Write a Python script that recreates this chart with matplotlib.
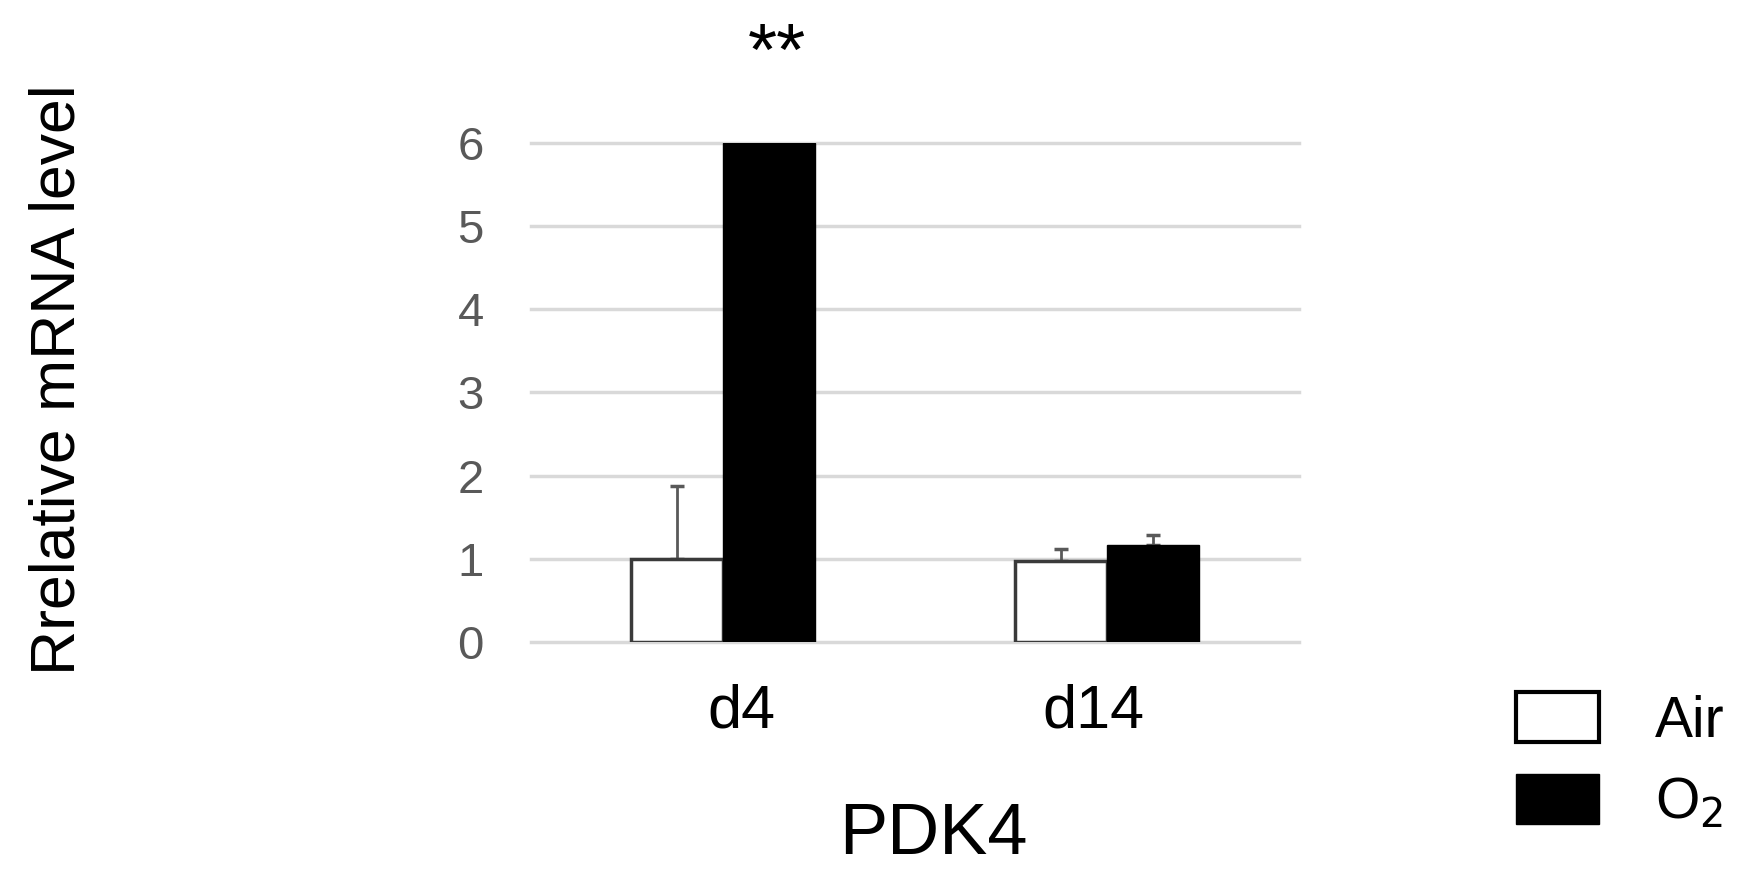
import matplotlib
matplotlib.use("Agg")
import matplotlib.pyplot as plt
import matplotlib.transforms as mtransforms
import numpy as np
from matplotlib.patches import Patch

plt.rcParams['font.family'] = ['Liberation Sans', 'DejaVu Sans']

# Data
categories = ['d4', 'd14']
air_values = [1.0, 0.97]
o2_values = [6.0, 1.16]
air_err = [0.88, 0.15]
o2_err = [np.nan, 0.12]
y_ticks = [0, 1, 2, 3, 4, 5, 6]

fig = plt.figure(figsize=(17.45, 8.83), dpi=100)
ax = fig.add_axes([0.3043, 0.2729, 0.4401, 0.5657])

x = np.arange(len(categories))
w = 0.24

# grid first so bars sit on top
ax.set_axisbelow(True)
ax.yaxis.grid(True, color='#d9d9d9', linewidth=2.5, clip_on=False)

ax.bar(x - w / 2, air_values, width=w, color='white', edgecolor='#3a3a3a', linewidth=2.5,
       label='Air', zorder=3)
ax.bar(x + w / 2, o2_values, width=w, color='black', edgecolor='black', linewidth=1,
       label='O$_2$', zorder=3)

# upper error bars only
ax.errorbar(x - w / 2, air_values, yerr=[np.zeros(len(air_err)), air_err], fmt='none',
            ecolor='#595959', elinewidth=2, capsize=5, capthick=2.5, zorder=2)
ax.errorbar(x + w / 2, o2_values, yerr=[np.zeros(len(o2_err)), o2_err], fmt='none',
            ecolor='#595959', elinewidth=2, capsize=5, capthick=2.5, zorder=2)

# significance mark
ax.text(x[0] + w / 2 + 0.02, 7.05, '**', ha='center', va='center', fontsize=54, clip_on=False)

ax.set_xlim(-0.5, 1.5)
ax.set_ylim(0, 6)
ax.set_yticks(y_ticks)
ax.set_xticks(x)
ax.set_xticklabels(categories)
ax.tick_params(axis='y', length=0, pad=34, labelsize=34, labelcolor='#595959')
ax.tick_params(axis='x', length=0, pad=30, labelsize=44)
# the category labels sit a little off centre in the original
for lbl, dx in zip(ax.get_xticklabels(), [18, -14]):
    lbl.set_transform(lbl.get_transform() + mtransforms.ScaledTranslation(dx / 100, 0, fig.dpi_scale_trans))
for s in ax.spines.values():
    s.set_visible(False)

fig.text(58 / 1745, 1 - 380 / 883, 'Rrelative mRNA level', rotation=90,
         ha='center', va='center', fontsize=45)
fig.text(933 / 1745, 1 - 836 / 883, 'PDK4', ha='center', va='center', fontsize=52)

handles = [Patch(facecolor='white', edgecolor='black', linewidth=3, label='Air'),
           Patch(facecolor='black', edgecolor='black', label='O$_2$')]
fig.legend(handles=handles, loc='upper left', bbox_to_anchor=(1516 / 1745, 1 - 692 / 883),
           frameon=False, fontsize=41, handlelength=1.46, handleheight=0.98,
           handletextpad=0.98, labelspacing=0.45, borderpad=0, borderaxespad=0)

fig.savefig('out.png', dpi=100)
